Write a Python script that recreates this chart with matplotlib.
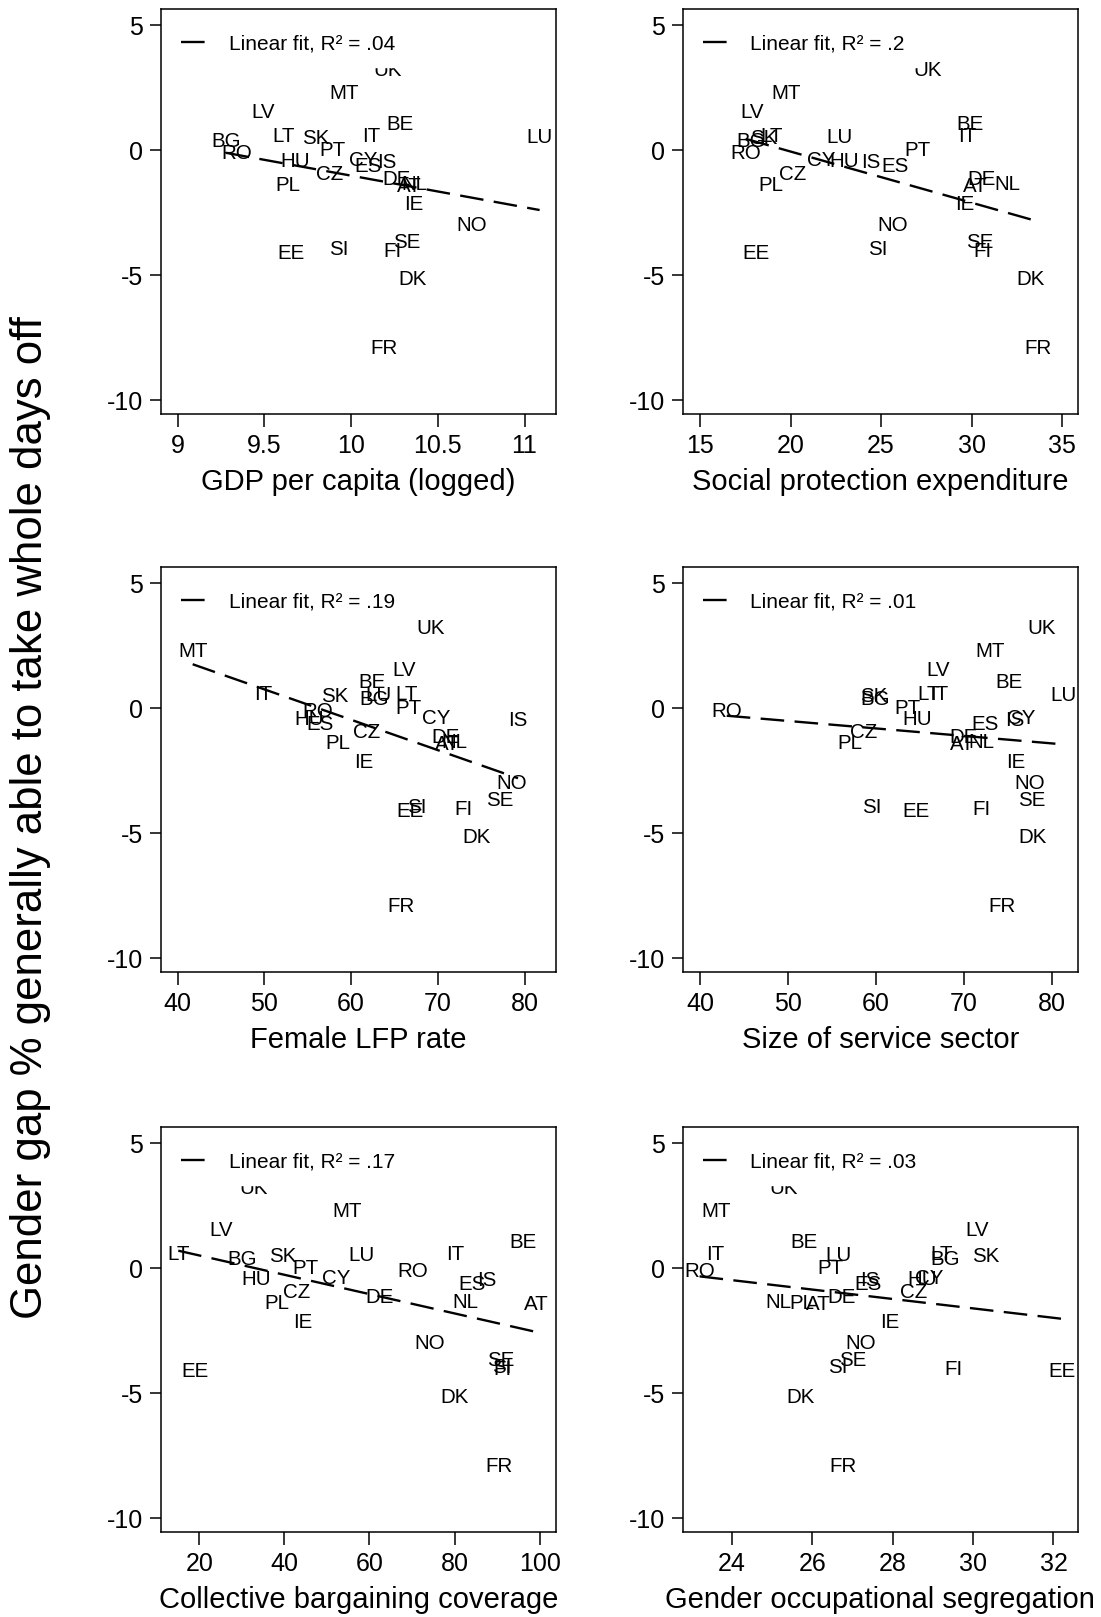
import numpy as np
import matplotlib.pyplot as plt
from matplotlib.lines import Line2D

countries = ['AT', 'BE', 'BG', 'CY', 'CZ', 'DE', 'DK', 'EE', 'ES', 'FI', 'FR', 'HU', 'IE', 'IS',
             'IT', 'LT', 'LU', 'LV', 'MT', 'NL', 'NO', 'PL', 'PT', 'RO', 'SE', 'SI', 'SK', 'UK']

# gender gap, % generally able to take whole days off
gap = [-1.37, 1.1, 0.42, -0.33, -0.9, -1.1, -5.08, -4.04, -0.6, -3.96, -7.87, -0.37, -2.09, -0.42,
       0.6, 0.6, 0.58, 1.56, 2.35, -1.32, -2.94, -1.35, 0.06, -0.08, -3.6, -3.9, 0.54, 3.25]

gdp = [10.334, 10.284, 9.278, 10.07, 9.877, 10.265, 10.354, 9.651, 10.098, 10.238, 10.188, 9.676,
       10.363, 10.207, 10.117, 9.61, 11.087, 9.49, 9.958, 10.367, 10.694, 9.637, 9.89, 9.34,
       10.319, 9.931, 9.795, 10.213]
social = [30.21, 29.9, 17.8, 21.68, 20.13, 30.58, 33.25, 18.1, 25.79, 30.6, 33.65, 22.96, 29.6,
          24.44, 29.79, 18.96, 22.7, 17.86, 19.76, 31.96, 25.66, 18.93, 27.02, 17.54, 30.43,
          24.81, 18.54, 27.6]
flfp = [71.06, 62.46, 62.62, 69.84, 61.77, 70.91, 74.45, 66.84, 56.4, 72.9, 65.8, 55.16, 61.46,
        79.24, 49.86, 66.38, 63.1, 66.07, 41.73, 71.95, 78.48, 58.5, 66.57, 56.2, 77.13, 67.6,
        58.12, 69.15]
service = [69.88, 75.1, 59.92, 76.5, 58.59, 69.94, 77.87, 64.59, 72.44, 72.06, 74.36, 64.66,
           75.97, 75.86, 67.24, 66.0, 81.4, 67.13, 73.0, 72.06, 77.56, 57.07, 63.6, 43.04, 77.75,
           59.54, 59.73, 78.89]
bargaining = [99.13, 96.14, 29.96, 52.29, 42.89, 62.3, 80.1, 18.99, 84.02, 91.3, 90.36, 33.33,
              44.3, 87.69, 80.1, 15.06, 58.16, 25.03, 54.8, 82.44, 74.06, 38.19, 45.08, 70.15,
              90.83, 91.0, 39.6, 32.86]
segregation = [26.15, 25.78, 29.3, 28.91, 28.51, 26.73, 25.71, 32.21, 27.39, 29.51, 26.75, 28.72,
               27.93, 27.42, 23.58, 29.22, 26.65, 30.11, 23.6, 25.15, 27.19, 25.73, 26.46, 23.19,
               27.0, 26.62, 30.32, 25.29]

xlabels = ['GDP per capita (logged)', 'Social protection expenditure', 'Female LFP rate',
           'Size of service sector', 'Collective bargaining coverage',
           'Gender occupational segregation']
r2_labels = ['Linear fit, R² = .04', 'Linear fit, R² = .2', 'Linear fit, R² = .19',
             'Linear fit, R² = .01', 'Linear fit, R² = .17', 'Linear fit, R² = .03']
xtick_vals = [[9, 9.5, 10, 10.5, 11], [15, 20, 25, 30, 35], [40, 50, 60, 70, 80],
              [40, 50, 60, 70, 80], [20, 40, 60, 80, 100], [24, 26, 28, 30, 32]]
xtick_text = [['9', '9.5', '10', '10.5', '11'], ['15', '20', '25', '30', '35'],
              ['40', '50', '60', '70', '80'], ['40', '50', '60', '70', '80'],
              ['20', '40', '60', '80', '100'], ['24', '26', '28', '30', '32']]
ytick_vals = [5, 0, -5, -10]
ytick_text = ['5', '0', '-5', '-10']
ylabel = 'Gender gap % generally able to take whole days off'

xvars = [gdp, social, flfp, service, bargaining, segregation]
xlims = [(8.904, 11.183), (14.04, 35.88), (38.08, 83.65), (38.03, 83.0), (11.0, 103.9),
         (22.77, 32.61)]

plt.rcParams['font.family'] = ['Liberation Sans', 'DejaVu Sans']
plt.rcParams['axes.unicode_minus'] = False
plt.rcParams['lines.scale_dashes'] = False

fig = plt.figure(figsize=(11.01, 16.17), dpi=100)

lefts = [0.14623, 0.62007]
bottoms = [0.74378, 0.39870, 0.05238]
w = 0.3590
h = 0.25065
dash = (17, 7.5)

for i in range(6):
    r, c = divmod(i, 2)
    ax = fig.add_axes([lefts[c], bottoms[r], w, h])
    xs = np.array(xvars[i])
    ys = np.array(gap)

    for name, xv, yv in zip(countries, xs, ys):
        ax.annotate(name, (xv, yv), xytext=(0, -5.3), textcoords='offset points',
                    ha='center', va='baseline', fontsize=14.8, color='black')

    # linear fit over the observed range
    slope, icpt = np.polyfit(xs, ys, 1)
    xx = np.array([xs.min(), xs.max()])
    ax.plot(xx, icpt + slope * xx, color='black', lw=1.7, dashes=dash)

    handle = Line2D([], [], color='black', lw=1.7, dashes=dash)
    ax.legend([handle], [r2_labels[i]], loc='upper left', bbox_to_anchor=(-0.013, 1.0),
              fontsize=15, handlelength=1.15, handletextpad=1.15, borderpad=0.65,
              borderaxespad=0.55, frameon=True, fancybox=False,
              framealpha=1, facecolor='white', edgecolor='white')

    ax.set_xlim(*xlims[i])
    ax.set_ylim(-10.56, 5.64)
    ax.set_xticks(xtick_vals[i])
    ax.set_xticklabels(xtick_text[i])
    ax.set_yticks(ytick_vals)
    ax.set_yticklabels(ytick_text)
    ax.tick_params(axis='x', length=9, width=1.1, pad=5.5, labelsize=18)
    ax.tick_params(axis='y', length=8, width=1.1, pad=5, labelsize=18)
    ax.set_xlabel(xlabels[i], fontsize=21, labelpad=7)
    for s in ax.spines.values():
        s.set_linewidth(1.1)

fig.text(0.028, 0.4947, ylabel, rotation=90, ha='center', va='center', fontsize=31.5)

fig.savefig('out.png', dpi=100, facecolor='white')
plt.close(fig)
